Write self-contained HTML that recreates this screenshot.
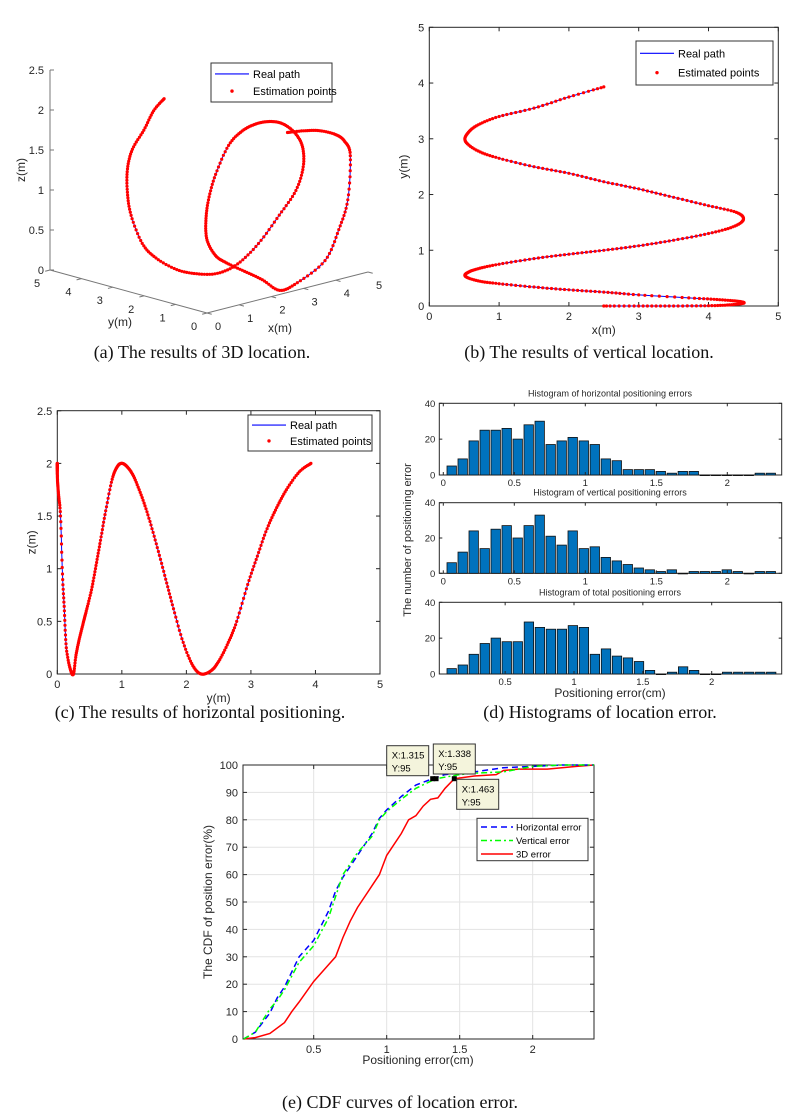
<!DOCTYPE html>
<html><head><meta charset="utf-8"><style>
body{margin:0;background:#fff}
svg{display:block;font-family:"Liberation Sans",sans-serif}
.tk{font-size:11px;fill:#262626}
.cap{font-family:"Liberation Serif",serif;font-size:18px;fill:#111}
</style></head><body>
<svg id="fig" width="799" height="1117" viewBox="0 0 799 1117" xmlns="http://www.w3.org/2000/svg">
<rect width="799" height="1117" fill="#fff"/>
<g id="pa"></g>
<g id="pb"></g>
<g id="pc"></g>
<g id="pd"></g>
<g id="pe"></g>
<text class="cap" x="202" y="358" text-anchor="middle">(a) The results of 3D location.</text>
<text class="cap" x="589" y="358" text-anchor="middle">(b) The results of vertical location.</text>
<text class="cap" x="200" y="718" text-anchor="middle">(c) The results of horizontal positioning.</text>
<text class="cap" x="600" y="718" text-anchor="middle">(d) Histograms of location error.</text>
<text class="cap" x="400" y="1108" text-anchor="middle">(e) CDF curves of location error.</text>
</svg>
<script>
// trajectory knots (m)
const pathX=[2.5,3.0,3.5,4.0,4.3,4.5,4.45,4.2,3.8,3.0,2.5,2.0,1.5,1.0,0.7,0.52,0.55,0.7,1.0,1.5,2.0,2.5,3.0,3.5,4.0,4.35,4.5,4.4,4.0,3.5,3.0,2.5,2.0,1.5,1.0,0.7,0.52,0.55,0.7,1.0,1.5,2.0,2.5];
const pathY=[0,0,0,0.005,0.02,0.05,0.08,0.11,0.14,0.2,0.25,0.29,0.34,0.4,0.45,0.53,0.6,0.67,0.75,0.85,0.93,1.0,1.08,1.18,1.3,1.42,1.55,1.68,1.8,1.95,2.1,2.23,2.38,2.5,2.65,2.78,2.95,3.1,3.25,3.4,3.55,3.75,3.93];
const pathZ=[2.0,1.97,1.92,1.82,1.7,1.5,0.95,0.6,0.25,0.05,0.0,0.18,0.33,0.48,0.6,0.8,1.03,1.27,1.55,1.85,1.97,2.0,1.97,1.88,1.7,1.48,1.2,0.9,0.62,0.3,0.08,0.0,0.03,0.12,0.3,0.5,0.85,1.12,1.38,1.58,1.75,1.92,2.0];
// histograms
const histH=[5,9,19,25,25,26,20,28,30,17,19,21,19,17,9,8,3,3,3,2,1,2,2,0,0,0,0,0,1,1];
const histV=[6,12,24,14,25,27,20,27,33,21,16,24,14,15,9,7,5,3,2,1,2,0,1,1,1,2,1,0,1,1];
const histT=[3,5,11,17,20,18,18,29,26,25,25,27,26,11,14,10,9,7,2,0,1,4,2,0,0,1,1,1,1,1];
const histTicksA=[0,0.5,1,1.5,2];
const histTicksB=[0.5,1,1.5,2];
const histYTicks=[0,20,40];
// CDF
const cdfHx=[0.02,0.1,0.2,0.25,0.3,0.4,0.5,0.6,0.65,0.7,0.8,0.9,0.95,1.0,1.1,1.2,1.315,1.4,1.6,1.8,2.0,2.2,2.42];
const cdfHy=[0,2.5,9.5,15,19,30,36,46.5,54,59,67,75,80.5,83.6,88.5,92.7,95,96.5,97.5,99,99.5,100,100];
const cdfVx=[0.02,0.1,0.2,0.25,0.3,0.4,0.5,0.6,0.65,0.7,0.8,0.9,0.95,1.0,1.1,1.2,1.338,1.5,1.6,1.8,2.0,2.2,2.42];
const cdfVy=[0,2.5,11,14,18,28,34,44,52,60,68,74,80,83,87.5,91.5,95,96.5,97,97.5,99.5,100,100];
const cdf3x=[0.02,0.1,0.2,0.3,0.35,0.4,0.5,0.6,0.65,0.7,0.75,0.8,0.9,0.95,1.0,1.1,1.15,1.2,1.25,1.3,1.35,1.4,1.463,1.6,1.75,1.8,1.9,2.1,2.3,2.42];
const cdf3y=[0,0.5,2,6,10,13.5,21,27,30,37,43,48,56,60,67,75,80,81.5,85,87.5,88,91.5,95,96,96.5,98,98.5,98.5,99.5,100];
const cdfXTicks=[0.5,1,1.5,2];
const cdfYTicks=[0,10,20,30,40,50,60,70,80,90,100];
const tipX=[1.315,1.338,1.463];
const tipY=[95,95,95];

const NS='http://www.w3.org/2000/svg';
function mk(p,tag,a,txt){const e=document.createElementNS(NS,tag);for(const k in a)e.setAttribute(k,a[k]);if(txt!==undefined)e.textContent=txt;p.appendChild(e);return e;}
function catmull(xs,ys,zs,n){const out=[];const L=xs.length;
 for(let i=0;i<L-1;i++){const i0=Math.max(0,i-1),i3=Math.min(L-1,i+2);
  for(let s=0;s<n;s++){const t=s/n,t2=t*t,t3=t2*t;
   const f=(a)=>0.5*((2*a[i])+(-a[i0]+a[i+1])*t+(2*a[i0]-5*a[i]+4*a[i+1]-a[i3])*t2+(-a[i0]+3*a[i]-3*a[i+1]+a[i3])*t3);
   out.push([f(xs),f(ys),f(zs)]);}}
 out.push([xs[L-1],ys[L-1],zs[L-1]]);return out;}
const dense=catmull(pathX,pathY,pathZ,8);

function legend(g,x,y,w,h,l1,l2){
 const lg=mk(g,'g',{});
 
 
 mk(lg,'rect',{x:x,y:y,width:w,height:h,fill:'#fff',stroke:'#333','stroke-width':1});
 mk(lg,'line',{x1:x+4,x2:x+38,y1:y+h*0.28,y2:y+h*0.28,stroke:'#0000ff','stroke-width':1.2});
 mk(lg,'text',{x:x+42,y:y+h*0.28+4,'font-size':11,fill:'#000'},l1);
 mk(lg,'circle',{cx:x+21,cy:y+h*0.72,r:1.7,fill:'#ff0000'});
 mk(lg,'text',{x:x+42,y:y+h*0.72+4,'font-size':11,fill:'#000'},l2);
}
function pathDots(g,pts,fx,fy){
 let d='';pts.forEach((p,i)=>{d+=(i?'L':'M')+fx(p).toFixed(1)+','+fy(p).toFixed(1);});
 const ln=mk(g,'path',{d:d,fill:'none',stroke:'#0000ff','stroke-width':1});
 
 
 const dg=mk(g,'g',{fill:'#ff0000'});
 
 
 pts.forEach(p=>mk(dg,'circle',{cx:fx(p).toFixed(1),cy:fy(p).toFixed(1),r:1.6}));
}
function box2d(g,L,R,T,B,xt,yt,fx,fy,xl,yl){
 mk(g,'rect',{x:L,y:T,width:R-L,height:B-T,fill:'#fff',stroke:'#262626','stroke-width':1});
 xt.forEach(v=>{const x=fx(v);mk(g,'line',{x1:x,x2:x,y1:B,y2:B-4,stroke:'#262626'});mk(g,'line',{x1:x,x2:x,y1:T,y2:T+4,stroke:'#262626'});mk(g,'text',{class:'tk',x:x,y:B+14,'text-anchor':'middle'},String(v));});
 yt.forEach(v=>{const y=fy(v);mk(g,'line',{x1:L,x2:L+4,y1:y,y2:y,stroke:'#262626'});mk(g,'line',{x1:R,x2:R-4,y1:y,y2:y,stroke:'#262626'});mk(g,'text',{class:'tk',x:L-5,y:y+4,'text-anchor':'end'},String(v));});
 const a=mk(g,'text',{x:(L+R)/2,y:B+28,'font-size':12,fill:'#262626','text-anchor':'middle'},xl);
 
 const b=mk(g,'text',{x:0,y:0,'font-size':12,fill:'#262626','text-anchor':'middle',transform:`translate(${L-22},${(T+B)/2}) rotate(-90)`},yl);
 
}
// ---- Panel A (3D)
(function(){const g=document.getElementById('pa');
 const PX=(x,y,z)=>207+32.2*x-31.4*y, PY=(x,y,z)=>313-8.2*x-8.6*y-80*z;
 mk(g,'line',{x1:PX(0,0,0),y1:PY(0,0,0),x2:PX(5,0,0),y2:PY(5,0,0),stroke:'#777'});
 mk(g,'line',{x1:PX(0,0,0),y1:PY(0,0,0),x2:PX(0,5,0),y2:PY(0,5,0),stroke:'#777'});
 mk(g,'line',{x1:PX(0,5,0),y1:PY(0,5,0),x2:PX(0,5,2.5),y2:PY(0,5,2.5),stroke:'#777'});
 [0,1,2,3,4,5].forEach(v=>{mk(g,'line',{x1:PX(v,0,0),y1:PY(v,0,0),x2:PX(v,-0.15,0),y2:PY(v,-0.15,0),stroke:'#777'});
  mk(g,'text',{class:'tk',x:PX(v,0,0)+11,y:PY(v,0,0)+17,'text-anchor':'middle'},String(v));
  mk(g,'line',{x1:PX(0,v,0),y1:PY(0,v,0),x2:PX(-0.15,v,0),y2:PY(-0.15,v,0),stroke:'#777'});
  mk(g,'text',{class:'tk',x:PX(0,v,0)-13,y:PY(0,v,0)+17,'text-anchor':'middle'},String(v));});
 [0,0.5,1,1.5,2,2.5].forEach(v=>{mk(g,'line',{x1:PX(0,5,v),y1:PY(0,5,v),x2:PX(0,5,v)+4,y2:PY(0,5,v),stroke:'#777'});
  mk(g,'text',{class:'tk',x:PX(0,5,v)-6,y:PY(0,5,v)+4,'text-anchor':'end'},String(v));});
 mk(g,'text',{x:280,y:332,'font-size':12,fill:'#262626','text-anchor':'middle'},'x(m)');
 mk(g,'text',{x:120,y:326,'font-size':12,fill:'#262626','text-anchor':'middle'},'y(m)');
 mk(g,'text',{x:0,y:0,'font-size':12,fill:'#262626','text-anchor':'middle',transform:'translate(25,170) rotate(-90)'},'z(m)');
 pathDots(g,dense,p=>PX(p[0],p[1],p[2]),p=>PY(p[0],p[1],p[2]));
 legend(g,211,63,121,39,'Real path','Estimation points');
})();
// ---- Panel B
(function(){const g=document.getElementById('pb');
 const fx=v=>429.3+v*69.8, fy=v=>306-v*55.74;
 box2d(g,429.3,778.3,27.3,306,[0,1,2,3,4,5],[0,1,2,3,4,5],fx,fy,'x(m)','y(m)');
 pathDots(g,dense,p=>fx(p[0]),p=>fy(p[1]));
 legend(g,636,41,137,44,'Real path','Estimated points');
})();
// ---- Panel C
(function(){const g=document.getElementById('pc');
 const fx=v=>57.3+v*64.54, fy=v=>674-v*105.3;
 box2d(g,57.3,380,410.7,674,[0,1,2,3,4,5],[0,0.5,1,1.5,2,2.5],fx,fy,'y(m)','z(m)');
 pathDots(g,dense,p=>fx(p[1]),p=>fy(p[2]));
 legend(g,248,415,124,36,'Real path','Estimated points');
})();
// ---- Panel D
(function(){const g=document.getElementById('pd');
 const subs=[
  {T:403.3,B:475,x0:443.3,s:142,start:0.059,step:0.0775,w:0.066,vals:histH,ticks:histTicksA,title:'Histogram of horizontal positioning errors',name:'histogram-horizontal'},
  {T:502.7,B:573.3,x0:443.3,s:142,start:0.059,step:0.0775,w:0.066,vals:histV,ticks:histTicksA,title:'Histogram of vertical positioning errors',name:'histogram-vertical'},
  {T:602.3,B:674,x0:436.3,s:137.7,start:0.112,step:0.08,w:0.068,vals:histT,ticks:histTicksB,title:'Histogram of total positioning errors',name:'histogram-total'}];
 const L=439.3,R=781.7;
 subs.forEach(o=>{const sg=mk(g,'g',{});
  
  
  const fx=v=>o.x0+v*o.s, fy=v=>o.B-(v/40)*(o.B-o.T);
  mk(sg,'rect',{x:L,y:o.T,width:R-L,height:o.B-o.T,fill:'#fff',stroke:'#262626'});
  o.vals.forEach((v,i)=>{const c=o.start+i*o.step;const x=fx(c-o.w/2),w=o.w*o.s;
   const b=mk(sg,'rect',{x:x.toFixed(1),y:fy(v).toFixed(1),width:w.toFixed(1),height:Math.max(0.6,o.B-fy(v)).toFixed(1),fill:'#0072BD',stroke:'#111','stroke-width':0.8});
   
   });
  o.ticks.forEach(v=>{const x=fx(v);mk(sg,'line',{x1:x,x2:x,y1:o.B,y2:o.B-3,stroke:'#262626'});mk(sg,'line',{x1:x,x2:x,y1:o.T,y2:o.T+3,stroke:'#262626'});mk(sg,'text',{x:x,y:o.B+11,'font-size':9.5,fill:'#262626','text-anchor':'middle'},String(v));});
  histYTicks.forEach(v=>{const y=fy(v);mk(sg,'line',{x1:L,x2:L+3,y1:y,y2:y,stroke:'#262626'});mk(sg,'line',{x1:R,x2:R-3,y1:y,y2:y,stroke:'#262626'});mk(sg,'text',{x:L-4,y:y+3.5,'font-size':9.5,fill:'#262626','text-anchor':'end'},String(v));});
  mk(sg,'text',{x:610,y:o.T-7,'font-size':9,fill:'#262626','text-anchor':'middle'},o.title);
 });
 mk(g,'text',{x:610,y:697,'font-size':12,fill:'#262626','text-anchor':'middle'},'Positioning error(cm)');
 mk(g,'text',{x:0,y:0,'font-size':11,fill:'#262626','text-anchor':'middle',transform:'translate(411,540) rotate(-90)'},'The number of positioning error');
})();
// ---- Panel E
(function(){const g=document.getElementById('pe');
 const L=243,R=594,T=765,B=1039;
 const fx=v=>240.7+v*146, fy=v=>B-v*(B-T)/100;
 mk(g,'rect',{x:L,y:T,width:R-L,height:B-T,fill:'#fff'});
 cdfXTicks.forEach(v=>mk(g,'line',{x1:fx(v),x2:fx(v),y1:T,y2:B,stroke:'#e3e3e3'}));
 cdfYTicks.forEach(v=>mk(g,'line',{x1:L,x2:R,y1:fy(v),y2:fy(v),stroke:'#e3e3e3'}));
 mk(g,'rect',{x:L,y:T,width:R-L,height:B-T,fill:'none',stroke:'#262626'});
 cdfXTicks.forEach(v=>{const x=fx(v);mk(g,'line',{x1:x,x2:x,y1:B,y2:B-4,stroke:'#262626'});mk(g,'line',{x1:x,x2:x,y1:T,y2:T+4,stroke:'#262626'});mk(g,'text',{class:'tk',x:x,y:B+14,'text-anchor':'middle'},String(v));});
 cdfYTicks.forEach(v=>{const y=fy(v);mk(g,'line',{x1:L,x2:L+4,y1:y,y2:y,stroke:'#262626'});mk(g,'line',{x1:R,x2:R-4,y1:y,y2:y,stroke:'#262626'});mk(g,'text',{class:'tk',x:L-5,y:y+4,'text-anchor':'end'},String(v));});
 mk(g,'text',{x:418,y:1064,'font-size':12,fill:'#262626','text-anchor':'middle'},'Positioning error(cm)');
 mk(g,'text',{x:0,y:0,'font-size':12,fill:'#262626','text-anchor':'middle',transform:'translate(212,902) rotate(-90)'},'The CDF of position error(%)');
 function line(xs,ys,col,dash,name){let d='';xs.forEach((x,i)=>{d+=(i?'L':'M')+fx(x).toFixed(1)+','+fy(ys[i]).toFixed(1);});
  const p=mk(g,'path',{d:d,fill:'none',stroke:col,'stroke-width':1.5,'stroke-dasharray':dash});
  
  }
 line(cdf3x,cdf3y,'#ff0000','none','3d-error-line');
 line(cdfHx,cdfHy,'#0000ff','6,4','horizontal-error-line');
 line(cdfVx,cdfVy,'#00ff00','6,3,2,3','vertical-error-line');
 const boxes=[[386.7,745.7,'X:1.315'],[433.3,744,'X:1.338'],[456.7,779.3,'X:1.463']];
 tipX.forEach((x,i)=>{const m=mk(g,'rect',{x:fx(x)-2.5,y:fy(tipY[i])-2.5,width:5,height:5,fill:'#000'});
  
  
  const b=boxes[i];const tg=mk(g,'g',{});
  
  
  mk(tg,'rect',{x:b[0],y:b[1],width:42,height:30,fill:'#f4f4dc',stroke:'#333'});
  mk(tg,'text',{x:b[0]+5,y:b[1]+13,'font-size':9.5,fill:'#000'},b[2]);
  mk(tg,'text',{x:b[0]+5,y:b[1]+26,'font-size':9.5,fill:'#000'},'Y:'+tipY[i]);});
 const lg=mk(g,'g',{});
 
 
 mk(lg,'rect',{x:477,y:818.3,width:111,height:42.4,fill:'#fff',stroke:'#333'});
 [['#0000ff','6,4','Horizontal error'],['#00ff00','6,3,2,3','Vertical error'],['#ff0000','none','3D error']].forEach((e,i)=>{const y=827+i*13.5;
  mk(lg,'line',{x1:481,x2:513,y1:y,y2:y,stroke:e[0],'stroke-width':1.5,'stroke-dasharray':e[1]});
  mk(lg,'text',{x:516,y:y+3.5,'font-size':9.5,fill:'#000'},e[2]);});
})();
</script>
</body></html>
